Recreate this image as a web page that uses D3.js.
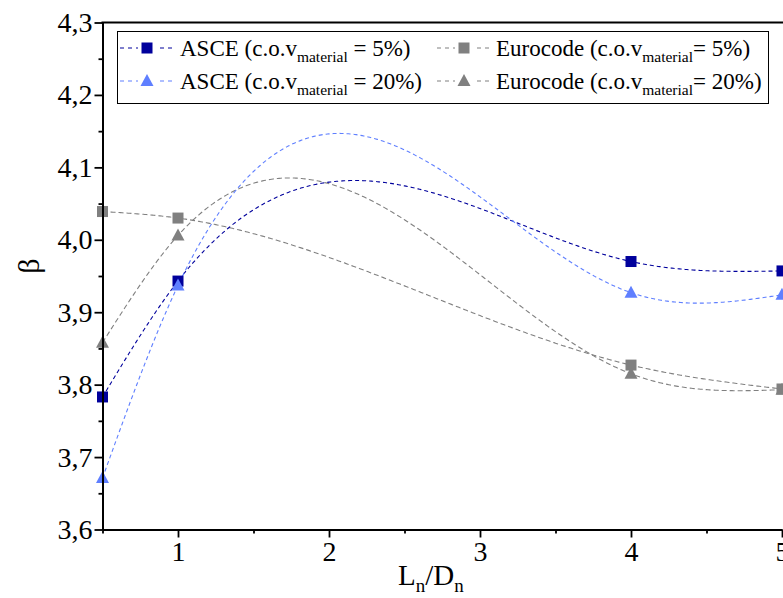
<!DOCTYPE html>
<html><head><meta charset="utf-8">
<script src="https://cdn.jsdelivr.net/npm/d3@7"></script>
<style>
html,body{margin:0;padding:0;background:#fff;}
svg{display:block;font-family:"Liberation Serif","Times New Roman",serif;}
</style></head>
<body><svg id="chart" width="783" height="598"></svg>
<script>
const xValues = [0.5, 1, 4, 5];
const asce5 = [3.783, 3.943, 3.970, 3.957];
const asce20 = [3.671, 3.937, 3.927, 3.924];
const euro5 = [4.039, 4.030, 3.827, 3.794];
const euro20 = [3.858, 4.006, 3.815, 3.793];
const xTicks = [1, 2, 3, 4, 5];
const xTickLabels = ["1", "2", "3", "4", "5"];
const yTicks = [3.6, 3.7, 3.8, 3.9, 4.0, 4.1, 4.2, 4.3];
const yTickLabels = ["3,6", "3,7", "3,8", "3,9", "4,0", "4,1", "4,2", "4,3"];
const xMinor = [0.5, 1.5, 2.5, 3.5, 4.5];
const yMinor = [3.65, 3.75, 3.85, 3.95, 4.05, 4.15, 4.25];

const series = [
  {key:"euro20", name:"Eurocode (c.o.v", tail:"= 20%)", values:euro20, color:"#808080", shape:"tri", dash:"5,3"},
  {key:"euro5", name:"Eurocode (c.o.v", tail:"= 5%)", values:euro5, color:"#808080", shape:"sq", dash:"5,3"},
  {key:"asce5", name:"ASCE (c.o.v", tail:" = 5%)", values:asce5, color:"#00009c", shape:"sq", dash:"4,3"},
  {key:"asce20", name:"ASCE (c.o.v", tail:" = 20%)", values:asce20, color:"#5f7fff", shape:"tri", dash:"4,3"}
];

const SERIF = '"Liberation Serif", "Times New Roman", serif';
const svg = d3.select("#chart");
const L = 102.5, R = 782, T = 22.5, B = 529.5;
const x = d3.scaleLinear().domain([0.5, 5]).range([L, R]);
const y = d3.scaleLinear().domain([3.6, 4.3]).range([B, T]);

// natural cubic spline y(x)
function naturalSpline(xs, ys){
  const n = xs.length - 1;
  const h = [], M = new Array(n+1).fill(0);
  for(let i=0;i<n;i++) h.push(xs[i+1]-xs[i]);
  const a=[],b=[],c=[],d=[];
  for(let i=1;i<n;i++){
    a.push(h[i-1]); b.push(2*(h[i-1]+h[i])); c.push(h[i]);
    d.push(6*((ys[i+1]-ys[i])/h[i] - (ys[i]-ys[i-1])/h[i-1]));
  }
  const m = n-1;
  for(let i=1;i<m;i++){ const w=a[i]/b[i-1]; b[i]-=w*c[i-1]; d[i]-=w*d[i-1]; }
  const sol = new Array(m);
  for(let i=m-1;i>=0;i--){ sol[i]=(d[i]-(i<m-1?c[i]*sol[i+1]:0))/b[i]; }
  for(let i=0;i<m;i++) M[i+1]=sol[i];
  return function(xv){
    let i = 0;
    while(i < n-1 && xv > xs[i+1]) i++;
    const hi=h[i], A=xs[i+1]-xv, Bv=xv-xs[i];
    return M[i]*A*A*A/(6*hi) + M[i+1]*Bv*Bv*Bv/(6*hi) + (ys[i]/hi - M[i]*hi/6)*A + (ys[i+1]/hi - M[i+1]*hi/6)*Bv;
  };
}

const g = svg.append("g");
const samples = d3.range(0.5, 5.0001, 0.01);
const line = d3.line().x(d=>x(d[0])).y(d=>y(d[1]));

function marker(sel, shape, color, cx, cy){
  if(shape==="sq"){
    sel.append("rect").attr("x",cx-5.5).attr("y",cy-5.5).attr("width",11).attr("height",11).attr("fill",color);
  } else {
    sel.append("path").attr("d",`M${cx},${cy-7}L${cx+6.5},${cy+5}L${cx-6.5},${cy+5}Z`).attr("fill",color);
  }
}

series.forEach(s=>{
  const f = naturalSpline(xValues, s.values);
  g.append("path").datum(samples.map(v=>[v,f(v)])).attr("d",line)
   .attr("fill","none").attr("stroke",s.color).attr("stroke-width",1.1).attr("stroke-dasharray",s.dash);
});
series.forEach(s=>{
  xValues.forEach((xv,i)=>marker(g, s.shape, s.color, x(xv), y(s.values[i])));
});

// axes
const ax = svg.append("g");
const xAxis = d3.axisBottom(x).tickValues(xTicks).tickFormat((d,i)=>xTickLabels[i]).tickSize(8).tickSizeOuter(0).tickPadding(4);
const xg = ax.append("g").attr("transform",`translate(0,${B})`).call(xAxis);
xg.attr("font-family",null).style("font-family",SERIF);
xg.selectAll("text").style("font-family",SERIF).style("font-size","28px").attr("fill","#000");
xg.selectAll("line").attr("stroke-width",1.8);
xg.select(".domain").attr("stroke-width",2);
ax.append("g").attr("transform",`translate(0,${B})`)
  .call(d3.axisBottom(x).tickValues(xMinor).tickFormat("").tickSize(4).tickSizeOuter(0))
  .call(s=>{s.select(".domain").remove(); s.selectAll("line").attr("stroke-width",1.8);});

const yAxis = d3.axisLeft(y).tickValues(yTicks).tickFormat((d,i)=>yTickLabels[i]).tickSize(8).tickSizeOuter(0).tickPadding(2);
const yg = ax.append("g").attr("transform",`translate(${L},0)`).call(yAxis);
yg.attr("font-family",null).style("font-family",SERIF);
yg.selectAll("text").style("font-family",SERIF).style("font-size","28px").attr("fill","#000");
yg.selectAll("line").attr("stroke-width",1.8);
yg.select(".domain").attr("stroke-width",2);
ax.append("g").attr("transform",`translate(${L},0)`)
  .call(d3.axisLeft(y).tickValues(yMinor).tickFormat("").tickSize(4).tickSizeOuter(0))
  .call(s=>{s.select(".domain").remove(); s.selectAll("line").attr("stroke-width",1.8);});

// top border
svg.append("line").attr("x1",L-1).attr("x2",783).attr("y1",T).attr("y2",T).attr("stroke","#000").attr("stroke-width",2);

// axis titles
const xt = svg.append("text").attr("x",398).attr("y",585).attr("font-size",29).attr("fill","#000");
xt.append("tspan").text("L");
xt.append("tspan").attr("dy",7).attr("font-size",19).text("n");
xt.append("tspan").attr("dy",-7).text("/D");
xt.append("tspan").attr("dy",7).attr("font-size",19).text("n");
svg.append("text").attr("transform","translate(39,266) rotate(-90)").attr("text-anchor","middle")
  .attr("font-size",30).attr("fill","#000").text("β");

// legend
const lg = svg.append("g");
lg.append("rect").attr("x",117.5).attr("y",31.5).attr("width",651).attr("height",72).attr("fill","#fff").attr("stroke","#000").attr("stroke-width",1);
const legendOrder = [
  {s:series[2], col:0, row:0},
  {s:series[1], col:1, row:0},
  {s:series[3], col:0, row:1},
  {s:series[0], col:1, row:1}
];
const colX = [{x0:120, x1:174, tx:180},{x0:437, x1:491, tx:496}];
const rowY = [48, 81];
legendOrder.forEach(e=>{
  const c = colX[e.col], cy = rowY[e.row], cx = (c.x0+c.x1)/2;
  lg.append("line").attr("x1",c.x0).attr("x2",c.x1).attr("y1",cy).attr("y2",cy)
    .attr("stroke",e.s.color).attr("stroke-width",1.1).attr("stroke-dasharray","4,4");
  lg.append("rect").attr("x",cx-9).attr("y",cy-7).attr("width",18).attr("height",14).attr("fill","#fff");
  marker(lg, e.s.shape, e.s.color, cx, cy);
  const t = lg.append("text").attr("x",c.tx).attr("y",cy+7.5).attr("font-size",23).attr("fill","#000");
  t.append("tspan").text(e.s.name);
  t.append("tspan").attr("dy",6).attr("font-size",15.5).text("material");
  t.append("tspan").attr("dy",-6).text(e.s.tail);
});
</script></body></html>
